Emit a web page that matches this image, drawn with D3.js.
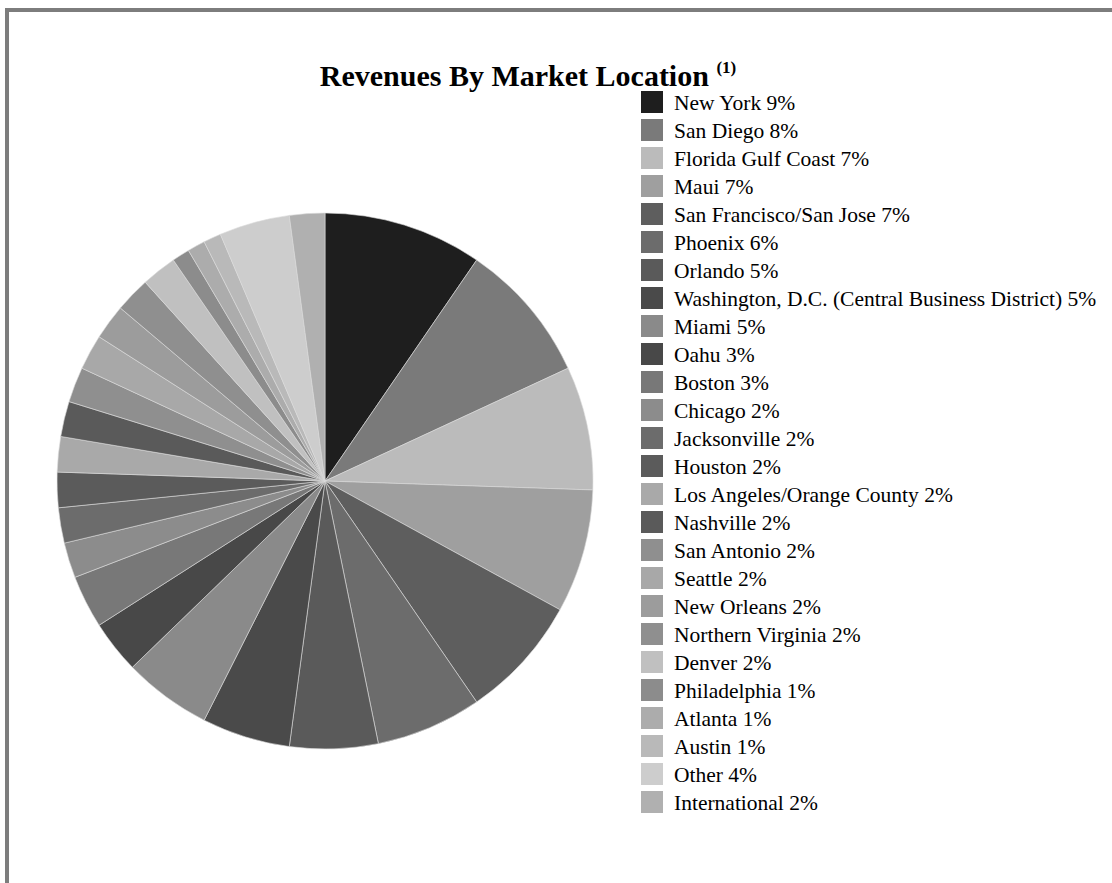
<!DOCTYPE html>
<html>
<head>
<meta charset="utf-8">
<script src="https://cdn.jsdelivr.net/npm/d3@7"></script>
<style>
  html, body { margin: 0; padding: 0; background: #fff; }
  svg { display: block; }
</style>
</head>
<body>
<svg id="chart" width="1112" height="883"></svg>
<script>
const categories = ["New York", "San Diego", "Florida Gulf Coast", "Maui", "San Francisco/San Jose",
  "Phoenix", "Orlando", "Washington, D.C. (Central Business District)", "Miami", "Oahu", "Boston",
  "Chicago", "Jacksonville", "Houston", "Los Angeles/Orange County", "Nashville", "San Antonio",
  "Seattle", "New Orleans", "Northern Virginia", "Denver", "Philadelphia", "Atlanta", "Austin",
  "Other", "International"];
const values = [9, 8, 7, 7, 7, 6, 5, 5, 5, 3, 3, 2, 2, 2, 2, 2, 2, 2, 2, 2, 2, 1, 1, 1, 4, 2];
const colors = ["#1e1e1e", "#7a7a7a", "#bbbbbb", "#9f9f9f", "#5e5e5e", "#6c6c6c", "#5a5a5a",
  "#4a4a4a", "#8a8a8a", "#484848", "#787878", "#8c8c8c", "#6c6c6c", "#5b5b5b", "#a9a9a9",
  "#5a5a5a", "#8f8f8f", "#a8a8a8", "#9c9c9c", "#8f8f8f", "#c0c0c0", "#8c8c8c", "#acacac",
  "#b9b9b9", "#cdcdcd", "#b0b0b0"];
const title = "Revenues By Market Location";
const titleNote = "(1)";

const data = categories.map((c, i) => ({ name: c, value: values[i], color: colors[i] }));

const svg = d3.select("#chart");

// frame
svg.append("rect")
  .attr("x", 7).attr("y", 10)
  .attr("width", 1200).attr("height", 1000)
  .attr("fill", "none").attr("stroke", "#7d7d7d").attr("stroke-width", 4);

// title
const t = svg.append("text")
  .attr("x", 528).attr("y", 86)
  .attr("text-anchor", "middle")
  .attr("font-family", "'Liberation Serif', 'Times New Roman', serif")
  .attr("font-weight", "bold")
  .attr("font-size", 30)
  .attr("fill", "#000");
t.append("tspan").text(title + " ");
t.append("tspan").attr("font-size", 17).attr("dy", -13).text(titleNote);

// pie
const cx = 325, cy = 481, r = 268;
const pie = d3.pie().sort(null).value(d => d.value);
const arc = d3.arc().innerRadius(0).outerRadius(r);
const g = svg.append("g").attr("transform", `translate(${cx},${cy})`);
g.selectAll("path").data(pie(data)).join("path")
  .attr("d", arc)
  .attr("fill", d => d.data.color)
  .attr("stroke", "#dcdcdc")
  .attr("stroke-width", 0.6)
  .attr("stroke-linejoin", "round");

// legend
const ly = d3.scaleBand().domain(categories).range([91, 91 + 28 * categories.length]).paddingInner(0);
const lg = svg.append("g");
const items = lg.selectAll("g").data(data).join("g")
  .attr("transform", d => `translate(641,${ly(d.name)})`);
items.append("rect").attr("width", 22).attr("height", 22).attr("fill", d => d.color);
items.append("text")
  .attr("x", 33).attr("y", 18.5)
  .attr("font-family", "'Liberation Serif', 'Times New Roman', serif")
  .attr("font-size", 21.5)
  .attr("fill", "#000")
  .text((d, i) => `${d.name} ${values[i]}%`);
</script>
</body>
</html>
